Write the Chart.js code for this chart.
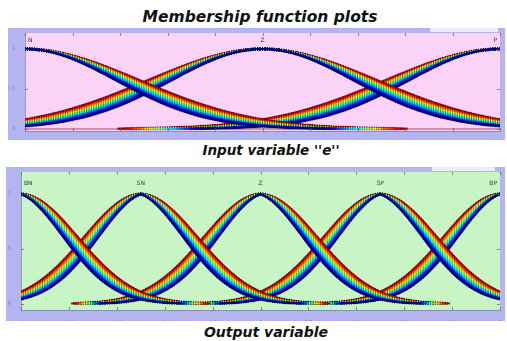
<!DOCTYPE html>
<html>
<head>
<meta charset="utf-8">
<script src="https://cdn.jsdelivr.net/npm/chart.js@4"></script>
<style>
  html, body { margin: 0; padding: 0; background: #fff; }
  body { width: 507px; height: 341px; position: relative; overflow: hidden; }
  .cap { position: absolute; font-family: "DejaVu Sans", sans-serif; font-weight: 700; font-style: italic;
         color: #111; white-space: nowrap; transform: translate(-50%, -50%); line-height: 1; }
  .frame { position: absolute; background: #b4b4f1; }
  .frame canvas { position: absolute; left: 0; top: 0; }
  .strip { position: absolute; background: #eeeefb; }
</style>
</head>
<body>
<div class="cap" style="left:260px; top:18px; font-size:15.5px;">Membership function plots</div>

<div class="frame" style="left:8px; top:28px; width:497px; height:112px;">
  <canvas id="inChart" width="497" height="112"></canvas>
</div>
<div class="strip" style="left:430px; top:28px; width:68px; height:4px;"></div>

<div class="cap" style="left:271px; top:151px; font-size:13.5px;">Input variable ''e''</div>

<div class="frame" style="left:6px; top:167px; width:499px; height:154px;">
  <canvas id="outChart" width="499" height="154"></canvas>
</div>
<div class="strip" style="left:432px; top:167px; width:63px; height:4px;"></div>

<div class="cap" style="left:266px; top:332px; font-size:14px;">Output variable</div>

<script>
// sample positions along the universe of discourse
const xs = [];
for (let i = 0; i <= 200; i++) xs.push(-1 + i * 0.01);

const xTicks = [-1, -0.8, -0.6, -0.4, -0.2, 0, 0.2, 0.4, 0.6, 0.8, 1];
const yTicks = [0, 0.5, 1];

// input "e": three gaussian MFs, sigma spread from inner (blue) to outer (red)
const inNames = ['N', 'Z', 'P'];
const inCenters = [-1, 0, 1];
const inSigma = [0.382, 0.487];
const inCusp = [0, 0];

// output: five MFs, inner edge slightly peaked
const outNames = ['BN', 'SN', 'Z', 'SP', 'BP'];
const outCenters = [-1, -0.5, 0, 0.5, 1];
const outSigma = [0.213, 0.239];
const outCusp = [0.041, 0];

const bandLines = 22;

// matlab jet colormap
function jet(t) {
  const c = v => Math.round(255 * Math.max(0, Math.min(1, v)));
  return `rgb(${c(1.5 - Math.abs(4 * t - 3))},${c(1.5 - Math.abs(4 * t - 2))},${c(1.5 - Math.abs(4 * t - 1))})`;
}

function mf(d, s, c) {
  const a = Math.abs(d);
  return Math.exp(-(a * a + 2 * c * a) / (2 * s * s));
}

function bandSets(centers, sigma, cusp) {
  const sets = [];
  centers.forEach(m => {
    for (let k = 0; k < bandLines; k++) {
      const t = k / (bandLines - 1);
      const s = sigma[0] + (sigma[1] - sigma[0]) * t;
      const c = cusp[0] + (cusp[1] - cusp[0]) * t;
      // far tails are left out, they vanish into the axis
      const pts = xs.map(x => {
        const y = mf(x - m, s, c);
        return { x: x, y: y > 0.004 ? y : null };
      });
      sets.push({
        data: pts,
        borderColor: jet(t),
        borderWidth: 1.6,
        pointStyle: 'line',
        rotation: 90,
        pointRadius: 1.6,
        pointBorderWidth: 0.8,
        pointBorderColor: 'rgba(0,0,0,0.28)',
        pointBackgroundColor: 'rgba(0,0,0,0)',
        spanGaps: false,
        tension: 0
      });
    }
  });
  return sets;
}

// fills the plot box and draws the inward tick marks and MF names
const panelPlugin = {
  id: 'panel',
  beforeDraw(chart, args, opts) {
    const { ctx, chartArea: a } = chart;
    ctx.save();
    ctx.fillStyle = opts.bg;
    ctx.fillRect(a.left, a.top, a.right - a.left, a.bottom - a.top);
    ctx.restore();
  },
  afterDraw(chart, args, opts) {
    const { ctx, chartArea: a, scales } = chart;
    ctx.save();
    ctx.strokeStyle = 'rgba(90,90,110,0.7)';
    ctx.lineWidth = 1;
    ctx.beginPath();
    xTicks.forEach(v => {
      const px = Math.round(scales.x.getPixelForValue(v)) + 0.5;
      ctx.moveTo(px, a.top); ctx.lineTo(px, a.top + 3);
      ctx.moveTo(px, a.bottom); ctx.lineTo(px, a.bottom - 3);
    });
    yTicks.forEach(v => {
      const py = Math.round(scales.y.getPixelForValue(v)) + 0.5;
      ctx.moveTo(a.left, py); ctx.lineTo(a.left + 3, py);
      ctx.moveTo(a.right, py); ctx.lineTo(a.right - 3, py);
    });
    ctx.stroke();
    ctx.fillStyle = '#333';
    ctx.font = '6px "DejaVu Sans", sans-serif';
    ctx.textBaseline = 'middle';
    const py = scales.y.getPixelForValue(opts.nameY);
    const last = opts.names.length - 1;
    opts.names.forEach((n, i) => {
      ctx.textAlign = i === 0 ? 'left' : (i === last ? 'right' : 'center');
      const px = scales.x.getPixelForValue(opts.centers[i]) + (i === 0 ? 3 : (i === last ? -3 : 0));
      ctx.fillText(n, px, py);
    });
    ctx.restore();
  }
};

function makeChart(id, datasets, cfg) {
  return new Chart(document.getElementById(id), {
    type: 'line',
    data: { datasets: datasets },
    options: {
      responsive: false,
      animation: false,
      events: [],
      layout: { padding: { left: 0, right: cfg.right, top: cfg.top, bottom: 0 } },
      plugins: {
        legend: { display: false },
        tooltip: { enabled: false },
        panel: { bg: cfg.bg, names: cfg.names, centers: cfg.centers, nameY: cfg.nameY }
      },
      scales: {
        x: {
          type: 'linear', min: -1, max: 1,
          afterFit: s => { s.height = cfg.xh; },
          afterBuildTicks: s => { s.ticks = xTicks.map(v => ({ value: v })); },
          grid: { display: false },
          border: { display: true, color: 'rgba(110,110,130,0.6)' },
          ticks: {
            padding: 2, maxRotation: 0, autoSkip: false, color: '#8080a0',
            font: { size: 5, family: '"DejaVu Sans", sans-serif' },
            callback: v => String(+(+v).toFixed(1))
          }
        },
        y: {
          min: cfg.ymin, max: cfg.ymax,
          afterFit: s => { s.width = cfg.yw; },
          afterBuildTicks: s => { s.ticks = yTicks.map(v => ({ value: v })); },
          grid: { display: false },
          border: { display: true, color: 'rgba(110,110,130,0.6)' },
          ticks: {
            padding: 2, color: '#8080a0',
            font: { size: 5, family: '"DejaVu Sans", sans-serif' },
            callback: v => String(v)
          }
        }
      }
    },
    plugins: [panelPlugin]
  });
}

// zero line of the input plot
const inSets = bandSets(inCenters, inSigma, inCusp);
inSets.push({
  data: [{ x: -1, y: 0 }, { x: 1, y: 0 }],
  borderColor: '#a04c62', borderWidth: 1, pointRadius: 0
});

makeChart('inChart', inSets, {
  bg: '#fbd3f6', names: inNames, centers: inCenters, nameY: 1.11,
  ymin: -0.025, ymax: 1.2, yw: 17, xh: 9, right: 5, top: 5
});

makeChart('outChart', bandSets(outCenters, outSigma, outCusp), {
  bg: '#c8f4c6', names: outNames, centers: outCenters, nameY: 1.1,
  ymin: -0.055, ymax: 1.2, yw: 15, xh: 11, right: 5, top: 5
});
</script>
</body>
</html>
